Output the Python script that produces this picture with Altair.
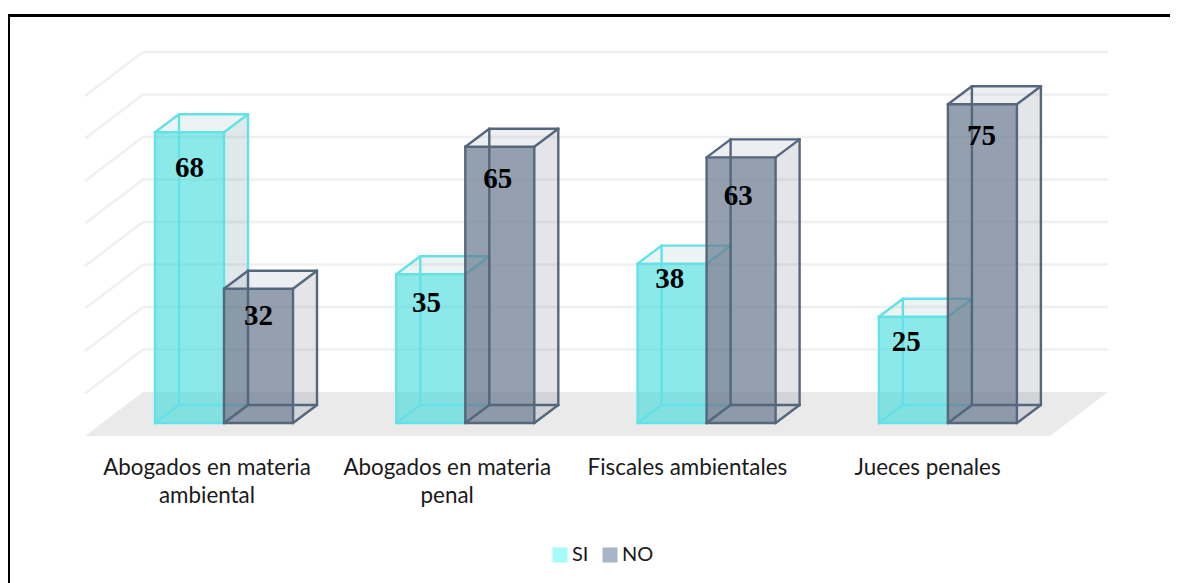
import altair as alt
import pandas as pd

# ---- values ----
categories = ["Abogados en materia\nambiental", "Abogados en materia\npenal",
              "Fiscales ambientales", "Jueces penales"]
si_values = [68.4, 35, 37.5, 25]
no_values = [31.6, 65, 62.5, 75]
si_labels = [68, 35, 38, 25]
no_labels = [32, 65, 63, 75]
grid_values = [10, 20, 30, 40, 50, 60, 70, 80]
# hand-placed label nudges of the original (category units, value units)
si_nudge = [(0.0, -7.96), (-0.018, -6.8), (-0.01, -4.2), (-0.03, -5.9)]
no_nudge = [(0.0, -6.9), (-0.008, -7.5), (-0.012, -9.6), (-0.004, -7.5)]

# ---- layout ----
OX = 8                  # page x of the plot origin
W, H = 1162, 575
STEP = 241.3            # px per category
LABEL_STEP = 240.2      # px between category label centres
PXV = 4.25              # px per value unit
X0, Y0 = 155.0, 423.0   # page px of first bar's front-left base


def ux(px):
    return (px - X0) / STEP


def uy(py):
    return (Y0 - py) / PXV


BW = 69 / STEP
DX, DV = 24 / STEP, 18 / PXV
FDX, FDV = 58 / STEP, 44 / PXV

xs = alt.Scale(domain=[ux(OX), ux(OX + W)], nice=False, zero=False)
ys = alt.Scale(domain=[uy(8 + H), uy(8)], nice=False, zero=False)
X = alt.X("x:Q", scale=xs, axis=None)
Y = alt.Y("y:Q", scale=ys, axis=None)
X2, Y2 = alt.X2("x2:Q"), alt.Y2("y2:Q")


def rules(rows, color, width, cap="round"):
    return alt.Chart(pd.DataFrame(rows)).mark_rule(
        color=color, strokeWidth=width, strokeCap=cap
    ).encode(x=X, y=Y, x2=X2, y2=Y2)


# floor
floor_rows = [
    {"y": uy(436), "x": ux(85), "x2": ux(1050)},
    {"y": uy(392), "x": ux(143), "x2": ux(1108)},
]
floor = alt.Chart(pd.DataFrame(floor_rows)).mark_area(
    orient="horizontal", color="#EAEAEA", opacity=1
).encode(y=Y, x=X, x2=X2)

# gridlines on the back wall and side wall
back = uy(392)
grid_rows = []
for g in grid_values:
    grid_rows.append({"x": ux(143), "x2": ux(1108), "y": back + g, "y2": back + g})
    grid_rows.append({"x": ux(85), "x2": ux(143), "y": back + g - FDV, "y2": back + g})
grid = rules(grid_rows, "#F0F0F0", 2.4, "butt")


def box(values, start, front, front_op, side, top, edge, ew):
    side_rows, top_rows, front_rows, edge_rows = [], [], [], []
    for i, v in enumerate(values):
        l = i + start
        r = l + BW
        side_rows += [
            {"f": i, "x": r, "y": v, "y2": 0},
            {"f": i, "x": r + DX, "y": v + DV, "y2": DV},
        ]
        top_rows += [
            {"f": i, "y": v, "x": l, "x2": r},
            {"f": i, "y": v + DV, "x": l + DX, "x2": r + DX},
        ]
        front_rows.append({"x": l, "x2": r, "y": 0, "y2": v})
        segs = [
            (l, 0, r, 0), (l, v, r, v), (l, 0, l, v), (r, 0, r, v),
            (l + DX, DV, r + DX, DV), (l + DX, v + DV, r + DX, v + DV),
            (l + DX, DV, l + DX, v + DV), (r + DX, DV, r + DX, v + DV),
            (l, 0, l + DX, DV), (r, 0, r + DX, DV),
            (l, v, l + DX, v + DV), (r, v, r + DX, v + DV),
        ]
        edge_rows += [{"x": a, "y": b, "x2": c, "y2": d} for a, b, c, d in segs]
    side_l = alt.Chart(pd.DataFrame(side_rows)).mark_area(color=side[0], opacity=side[1]).encode(
        x=X, y=Y, y2=Y2, detail="f:N")
    top_l = alt.Chart(pd.DataFrame(top_rows)).mark_area(
        orient="horizontal", color=top[0], opacity=top[1]).encode(
        y=Y, x=X, x2=X2, detail="f:N")
    front_l = alt.Chart(pd.DataFrame(front_rows)).mark_rect(color=front, opacity=front_op).encode(
        x=X, x2=X2, y=Y, y2=Y2)
    return [side_l, top_l, front_l, rules(edge_rows, edge, ew)]


si_box = box(si_values, 0, "#2CD9D7", 0.55, ("#649196", 0.2), ("#A0C8C3", 0.2), "#62E1E8", 2.4)
no_box = box(no_values, 69 / STEP, "#66778D", 0.7, ("#737D8C", 0.2), ("#A5AAB9", 0.2), "#56667C", 2.4)

# value labels
lab_rows = []
for i, (v, n) in enumerate(zip(si_labels, si_nudge)):
    lab_rows.append({"x": i + BW / 2 + n[0], "y": v + n[1], "t": str(v)})
for i, (v, n) in enumerate(zip(no_labels, no_nudge)):
    lab_rows.append({"x": i + 69 / STEP + BW / 2 + n[0], "y": v + n[1], "t": str(v)})
labels = alt.Chart(pd.DataFrame(lab_rows)).mark_text(
    font="Liberation Serif", fontWeight="bold", fontSize=29, color="#000000",
    align="center", baseline="middle"
).encode(x=X, y=Y, text="t:N")

# category labels
cat_rows = [{"x": ux(207 + i * LABEL_STEP), "y": uy(457), "t": c} for i, c in enumerate(categories)]
cats = alt.Chart(pd.DataFrame(cat_rows)).mark_text(
    font="Lato", fontSize=22.4, color="#1A1A1A", align="center", baseline="top",
    lineBreak="\n", lineHeight=28
).encode(x=X, y=Y, text="t:N")

# legend
leg_rows = [{"x": 0, "y": 0, "s": "SI"}, {"x": 0, "y": 0, "s": "NO"}]
legend = alt.Chart(pd.DataFrame(leg_rows)).mark_square(size=0, opacity=0).encode(
    x=X, y=Y,
    color=alt.Color("s:N", scale=alt.Scale(domain=["SI", "NO"], range=["#A6FBFB", "#A9B4C6"]),
                    legend=alt.Legend(
                        title=None, orient="none", legendX=542, legendY=537, direction="horizontal",
                        symbolType="square", symbolSize=225, symbolOpacity=1, symbolStrokeWidth=0,
                        labelFont="Lato", labelFontSize=20, labelColor="#1A1A1A", labelOffset=2,
                        columnPadding=11, padding=0)),
)

frame = alt.Chart(pd.DataFrame({"a": [0]})).mark_rect(
    fill=None, stroke="#000000", strokeWidth=3, opacity=1
).encode(x=alt.value(0.5), x2=alt.value(1300), y=alt.value(7.5), y2=alt.value(600))

chart = alt.layer(
    floor, grid, *si_box, *no_box, labels, cats, legend, frame
).properties(
    width=W, height=H, padding=0,
    autosize=alt.AutoSizeParams(type="none"),
    background="#FFFFFF"
).configure_view(stroke=None)

chart.save("out.html", embed_options={"renderer": "svg", "actions": False})
